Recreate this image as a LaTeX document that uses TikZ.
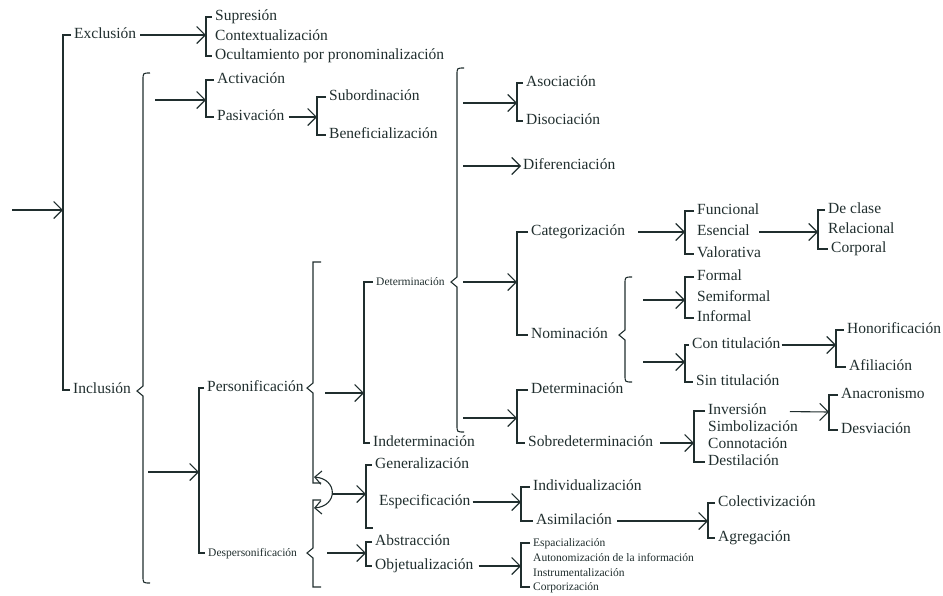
\documentclass[tikz,border=0pt]{standalone}
\usepackage{fontspec}
\setmainfont{Liberation Serif}
\usetikzlibrary{arrows.meta,calc}
\definecolor{ink}{RGB}{32,46,46}
% square bracket: x taken from coordinate #1, from node #2 down to node #3
\newcommand{\sqbr}[3]{\draw[brk, shorten <=2pt, shorten >=2pt] (#2.west) -- (#2.west -| #1) -- (#3.west -| #1) -- (#3.west);}
% curly brace: x, top, tip, bottom
\newcommand{\cbrace}[4]{\draw[brk] (#1+7,#2) .. controls (#1,#2) .. (#1,#2+7) -- (#1,#3-5) -- (#1-6,#3) -- (#1,#3+5) -- (#1,#4-7) .. controls (#1,#4) .. (#1+7,#4);}
% straight brace with a tip: x, top, tip, bottom
\newcommand{\sbrace}[4]{\draw[brk] (#1+8,#2) -- (#1,#2) -- (#1,#3-5) -- (#1-6,#3) -- (#1,#3+5) -- (#1,#4) -- (#1+8,#4);}

\begin{document}
\begin{tikzpicture}[x=1pt,y=-1pt,
  lbl/.style={anchor=west, inner sep=1pt, text=ink, font=\fontsize{15.5}{17}\selectfont, text height=10pt, text depth=3pt},
  sml/.style={lbl, font=\fontsize{11.5}{13}\selectfont, text height=8pt, text depth=2pt},
  brk/.style={draw=ink, line width=1.1pt},
  arr/.style={brk, -{Straight Barb[scale=2.3]}}]
\useasboundingbox (0,0) rectangle (943,595);

% labels
\node[lbl] (exc) at (73,35) {Exclusión};
\node[lbl] (sup) at (214,17) {Supresión};
\node[lbl] (con) at (214,37) {Contextualización};
\node[lbl] (ocu) at (214,56) {Ocultamiento por pronominalización};
\node[lbl] (inc) at (72,390) {Inclusión};
\node[lbl] (act) at (216,80) {Activación};
\node[lbl] (pas) at (216,117) {Pasivación};
\node[lbl] (sub) at (328,97) {Subordinación};
\node[lbl] (ben) at (328,135) {Beneficialización};
\node[lbl] (per) at (206,388) {Personificación};
\node[sml] (des) at (207,553) {Despersonificación};
\node[sml] (det) at (375,282) {Determinación};
\node[lbl] (ind) at (372,443) {Indeterminación};
\node[lbl] (aso) at (525,83) {Asociación};
\node[lbl] (dis) at (525,121) {Disociación};
\node[lbl] (dif) at (522,166) {Diferenciación};
\node[lbl] (cat) at (530,232) {Categorización};
\node[lbl] (nom) at (530,335) {Nominación};
\node[lbl] (dett) at (530,390) {Determinación};
\node[lbl] (sob) at (527,443) {Sobredeterminación};
\node[lbl] (fun) at (696,211) {Funcional};
\node[lbl] (ese) at (696,232) {Esencial};
\node[lbl] (val) at (696,254) {Valorativa};
\node[lbl] (dcl) at (827,210) {De clase};
\node[lbl] (rel) at (827,230) {Relacional};
\node[lbl] (cor) at (830,249) {Corporal};
\node[lbl] (fml) at (696,277) {Formal};
\node[lbl] (sem) at (696,298) {Semiformal};
\node[lbl] (inf) at (696,318) {Informal};
\node[lbl] (cont) at (691,345) {Con titulación};
\node[lbl] (sint) at (695,382) {Sin titulación};
\node[lbl] (hon) at (846,330) {Honorificación};
\node[lbl] (afi) at (848,367) {Afiliación};
\node[lbl] (inv) at (707,411) {Inversión};
\node[lbl] (sim) at (707,428) {Simbolización};
\node[lbl] (cnn) at (707,445) {Connotación};
\node[lbl] (dst) at (707,462) {Destilación};
\node[lbl] (ana) at (840,395) {Anacronismo};
\node[lbl] (dsv) at (840,430) {Desviación};
\node[lbl] (gen) at (374,465) {Generalización};
\node[lbl] (esp) at (378,502) {Especificación};
\node[lbl] (indv) at (532,487) {Individualización};
\node[lbl] (asi) at (535,521) {Asimilación};
\node[lbl] (col) at (717,503) {Colectivización};
\node[lbl] (agr) at (717,538) {Agregación};
\node[lbl] (abs) at (374,542) {Abstracción};
\node[lbl] (obj) at (374,566) {Objetualización};
\node[sml] (esz) at (532,543) {Espacialización};
\node[sml] (aut) at (532,558) {Autonomización de la información};
\node[sml] (ins) at (532,573) {Instrumentalización};
\node[sml] (cpz) at (532,587) {Corporización};

% where the arrows meet the brackets
\coordinate (start) at (12,210);   \coordinate (kMain) at (63,210);
\coordinate (kExc) at (206,35);    \coordinate (kAct) at (206,100);
\coordinate (kPas) at (317,117);   \coordinate (kPer) at (199,472);
\coordinate (kDet) at (364,393);   \coordinate (kAso) at (517,103);
\coordinate (kCat) at (517,282);   \coordinate (kDett) at (517,418);
\coordinate (kFun) at (685,232);   \coordinate (kDcl) at (818,232);
\coordinate (kFml) at (685,300);   \coordinate (kCont) at (685,362);
\coordinate (kHon) at (836,345);   \coordinate (kInv) at (694,443);
\coordinate (kAna) at (829,412);   \coordinate (kGen) at (366,494);
\coordinate (kIndv) at (521,502);  \coordinate (kCol) at (708,521);
\coordinate (kAbs) at (366,553);   \coordinate (kEsz) at (521,566);
\coordinate (genEnd) at (373,528);
% where the arrows leave the braces
\coordinate (iA) at (155,100);     \coordinate (iB) at (148,472);
\coordinate (pA) at (325,393);     \coordinate (pB) at (327,553);
\coordinate (dA) at (463,103);     \coordinate (dB) at (463,166);
\coordinate (dC) at (463,282);     \coordinate (dD) at (463,418);
\coordinate (nA) at (643,300);     \coordinate (nB) at (643,362);
\coordinate (arcM) at (332,494);

% brackets
\sqbr{kMain}{exc}{inc}
\sqbr{kExc}{sup}{ocu}
\sqbr{kAct}{act}{pas}
\sqbr{kPas}{sub}{ben}
\sqbr{kPer}{per}{des}
\sqbr{kDet}{det}{ind}
\sqbr{kAso}{aso}{dis}
\sqbr{kCat}{cat}{nom}
\sqbr{kDett}{dett}{sob}
\sqbr{kFun}{fun}{val}
\sqbr{kDcl}{dcl}{cor}
\sqbr{kFml}{fml}{inf}
\sqbr{kCont}{cont}{sint}
\sqbr{kHon}{hon}{afi}
\sqbr{kInv}{inv}{dst}
\sqbr{kAna}{ana}{dsv}
\sqbr{kIndv}{indv}{asi}
\sqbr{kCol}{col}{agr}
\sqbr{kAbs}{abs}{obj}
\sqbr{kEsz}{esz}{cpz}
\draw[brk, shorten <=2pt] (gen.west) -- (gen.west -| kGen) -- (genEnd -| kGen) -- (genEnd);

% braces
\cbrace{143}{73}{391}{583}
\cbrace{457}{68}{282}{432}
\cbrace{625}{277}{335}{382}
\sbrace{313}{262}{388}{483}
\sbrace{313}{500}{553}{587}
\draw[brk, {Straight Barb[scale=1.8]}-{Straight Barb[scale=1.8]}] (314,477) .. controls (338,479) and (338,506) .. (314,508);

% arrows
\draw[arr] (start) -- (kMain);
\draw[arr, shorten <=3pt] (exc) -- (kExc);
\draw[arr] (iA) -- (kAct);
\draw[arr, shorten <=3pt] (pas) -- (kPas);
\draw[arr] (iB) -- (kPer);
\draw[arr] (pA) -- (kDet);
\draw[arr] (dA) -- (kAso);
\draw[arr, shorten >=1pt] (dB) -- (dif);
\draw[arr] (dC) -- (kCat);
\draw[arr] (dD) -- (kDett);
\draw[arr, shorten <=12pt] (cat) -- (kFun);
\draw[arr, shorten <=8pt] (ese) -- (kDcl);
\draw[arr] (nA) -- (kFml);
\draw[arr] (nB) -- (kCont);
\draw[arr] (cont) -- (kHon);
\draw[arr, shorten <=6pt] (sob) -- (kInv);
\draw[arr, shorten <=22pt] (inv) -- (kAna);
\draw[arr] (arcM) -- (kGen);
\draw[arr, shorten <=1pt] (esp) -- (kIndv);
\draw[arr, shorten <=4pt] (asi) -- (kCol);
\draw[arr] (pB) -- (kAbs);
\draw[arr, shorten <=4pt] (obj) -- (kEsz);
\end{tikzpicture}
\end{document}
